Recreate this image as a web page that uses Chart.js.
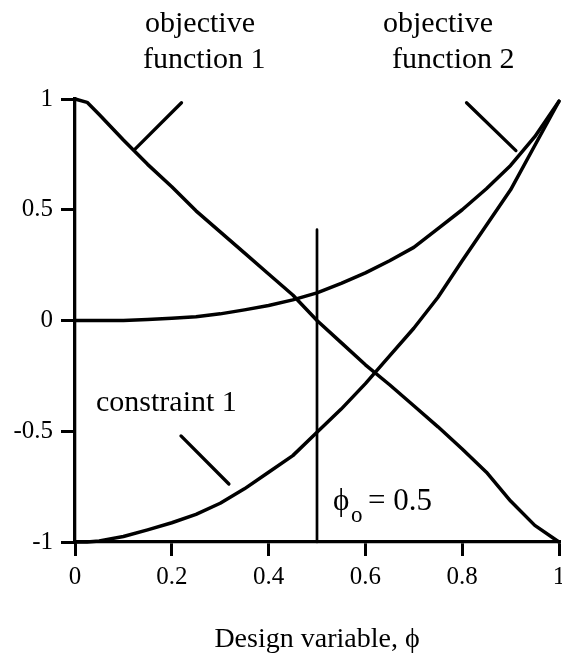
<!DOCTYPE html>
<html>
<head>
<meta charset="utf-8">
<script src="https://cdn.jsdelivr.net/npm/chart.js@4.4.1/dist/chart.umd.min.js"></script>
<style>
  html, body { margin: 0; padding: 0; background: #fff; }
  #wrap { width: 562px; height: 661px; }
</style>
</head>
<body>
<div id="wrap"><canvas id="c" width="562" height="661"></canvas></div>
<script>
// ---- data ----
const phi = [0, 0.025, 0.05, 0.1, 0.15, 0.2, 0.25, 0.3, 0.35, 0.4, 0.45, 0.5, 0.55, 0.6, 0.65, 0.7, 0.75, 0.8, 0.85, 0.9, 0.95, 1];
const objective1 = [1.0, 0.985, 0.93, 0.815, 0.705, 0.604, 0.495, 0.40, 0.305, 0.21, 0.115, 0.0, -0.10, -0.20, -0.29, -0.385, -0.48, -0.58, -0.685, -0.815, -0.925, -1.0];
const objective2 = [0.0, 0.0, 0.0, 0.0, 0.005, 0.01, 0.017, 0.03, 0.048, 0.068, 0.093, 0.125, 0.168, 0.215, 0.27, 0.33, 0.415, 0.5, 0.595, 0.70, 0.83, 0.99];
const constraint1 = [-1.0, -1.0, -0.995, -0.975, -0.945, -0.913, -0.875, -0.825, -0.76, -0.685, -0.61, -0.505, -0.40, -0.285, -0.16, -0.035, 0.105, 0.27, 0.43, 0.59, 0.79, 0.99];

const phiOptimum = [0.5, 0.5];
const phiOptimumY = [-1, 0.41];

const pointerObj1X = [0.22, 0.1225];
const pointerObj1Y = [0.983, 0.77];
const pointerObj2X = [0.809, 0.911];
const pointerObj2Y = [0.983, 0.767];
const pointerConX = [0.219, 0.318];
const pointerConY = [-0.521, -0.738];

const xTicks = [0, 0.2, 0.4, 0.6, 0.8, 1];
const xTickLabels = ['0', '0.2', '0.4', '0.6', '0.8', '1'];
const yTicks = [-1, -0.5, 0, 0.5, 1];
const yTickLabels = ['-1', '-0.5', '0', '0.5', '1'];
const xTitle = 'Design variable, \u03D5';

// ---- helpers ----
const pts = (xs, ys) => xs.map((x, i) => ({ x: x, y: ys[i] }));
const SERIF = '"Liberation Serif", "Times New Roman", serif';

function lineSet(data, width) {
  return {
    data: data, showLine: true, borderColor: '#000', borderWidth: width,
    pointRadius: 0, tension: 0, fill: false, clip: false,
    borderCapStyle: 'round', borderJoinStyle: 'round'
  };
}

const whiteBg = {
  id: 'whiteBg',
  beforeDraw(chart) {
    const ctx = chart.ctx;
    ctx.save();
    ctx.fillStyle = '#fff';
    ctx.fillRect(0, 0, chart.width, chart.height);
    ctx.restore();
  }
};

const labels = {
  id: 'labels',
  afterDraw(chart) {
    const ctx = chart.ctx;
    ctx.save();
    ctx.fillStyle = '#000';
    ctx.textBaseline = 'alphabetic';
    ctx.textAlign = 'left';
    ctx.font = '30px ' + SERIF;
    ctx.fillText('objective', 145, 32);
    ctx.fillText('function 1', 143, 68);
    ctx.fillText('objective', 383, 32);
    ctx.fillText('function 2', 392, 68);
    ctx.fillText('constraint 1', 96, 411);
    ctx.font = '31px ' + SERIF;
    ctx.fillText('\u03D5', 333, 510);
    ctx.font = '23px ' + SERIF;
    ctx.fillText('o', 351, 522);
    ctx.font = '31px ' + SERIF;
    ctx.fillText('= 0.5', 368, 510);
    ctx.restore();
  }
};

new Chart(document.getElementById('c'), {
  type: 'scatter',
  data: {
    datasets: [
      lineSet(pts(phi, objective1), 3.5),
      lineSet(pts(phi, objective2), 3.5),
      lineSet(pts(phi, constraint1), 3.5),
      lineSet(pts(phiOptimum, phiOptimumY), 2.7),
      lineSet(pts(pointerObj1X, pointerObj1Y), 3.3),
      lineSet(pts(pointerObj2X, pointerObj2Y), 3.3),
      lineSet(pts(pointerConX, pointerConY), 3.3)
    ]
  },
  options: {
    responsive: false,
    animation: false,
    events: [],
    layout: { padding: { left: 0, top: 99, right: 3, bottom: 0 } },
    plugins: { legend: { display: false }, tooltip: { enabled: false }, title: { display: false } },
    scales: {
      x: {
        type: 'linear', min: 0, max: 1,
        afterBuildTicks: (s) => { s.ticks = xTicks.map(v => ({ value: v })); },
        afterFit: (s) => { s.height = 119; s.paddingLeft = 0; s.paddingRight = 0; },
        ticks: {
          callback: (v, i) => xTickLabels[i],
          color: '#000', font: { family: SERIF, size: 25 }, padding: 6, maxRotation: 0, autoSkip: false
        },
        grid: { drawOnChartArea: false, drawTicks: true, tickLength: 14, color: '#000', lineWidth: 3 },
        border: { display: true, color: '#000', width: 3.3 },
        title: { display: true, text: xTitle, color: '#000', font: { family: SERIF, size: 28 }, padding: { top: 0, bottom: 5 } }
      },
      y: {
        type: 'linear', min: -1, max: 1,
        afterBuildTicks: (s) => { s.ticks = yTicks.map(v => ({ value: v })); },
        afterFit: (s) => { s.width = 75; },
        ticks: {
          callback: (v, i) => yTickLabels[i],
          color: '#000', font: { family: SERIF, size: 25 }, padding: 8, autoSkip: false
        },
        grid: { drawOnChartArea: false, drawTicks: true, tickLength: 14, color: '#000', lineWidth: 3 },
        border: { display: true, color: '#000', width: 3.3 }
      }
    }
  },
  plugins: [whiteBg, labels]
});
</script>
</body>
</html>
